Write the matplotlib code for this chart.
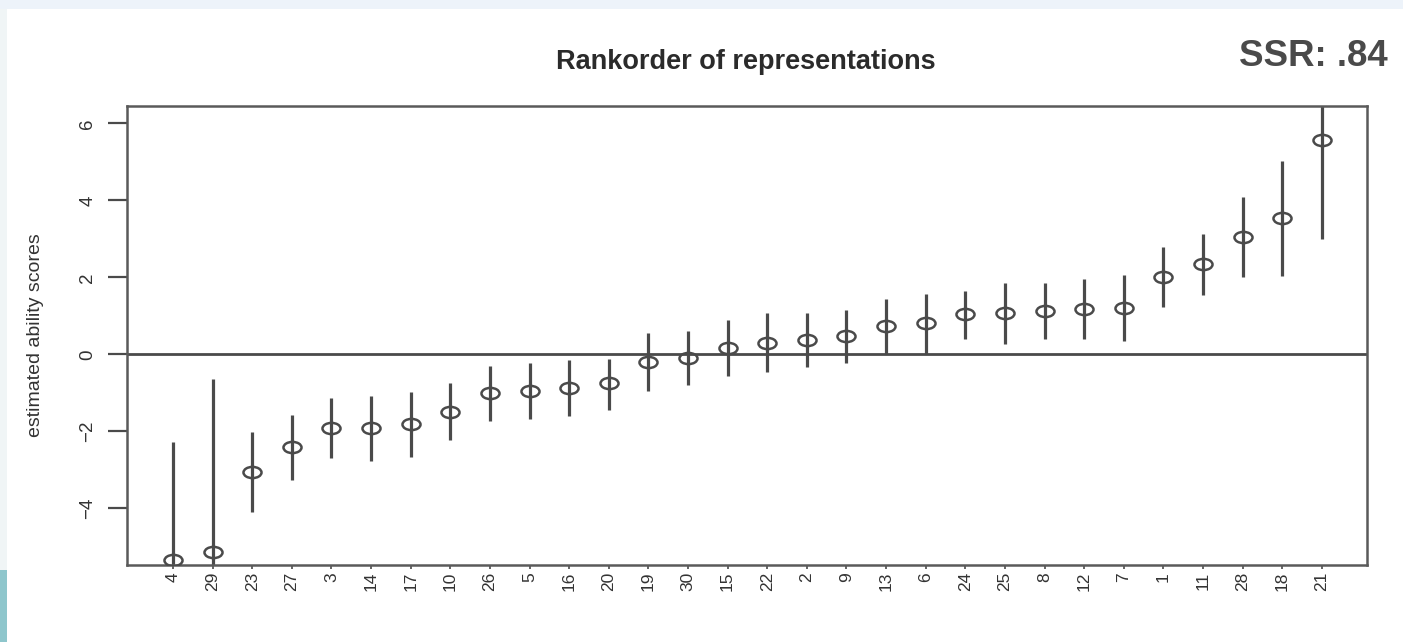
import matplotlib
matplotlib.use("Agg")
import matplotlib.pyplot as plt
from matplotlib.patches import Rectangle
from matplotlib.path import Path
from matplotlib.markers import MarkerStyle
from matplotlib.transforms import Affine2D

# Representations in rank order, with estimated ability scores and interval bounds
labels = ['4', '29', '23', '27', '3', '14', '17', '10', '26', '5', '16', '20', '19', '30', '15',
          '22', '2', '9', '13', '6', '24', '25', '8', '12', '7', '1', '11', '28', '18', '21']
estimates = [-5.33, -5.14, -3.06, -2.41, -1.90, -1.90, -1.81, -1.49, -1.00, -0.95, -0.87, -0.75,
             -0.21, -0.09, 0.16, 0.30, 0.37, 0.48, 0.74, 0.81, 1.04, 1.08, 1.13, 1.17, 1.20,
             2.02, 2.34, 3.05, 3.55, 5.57]
lower = [-8.40, -9.60, -4.10, -3.26, -2.70, -2.76, -2.67, -2.22, -1.73, -1.67, -1.60, -1.45,
         -0.95, -0.80, -0.56, -0.45, -0.32, -0.22, 0.00, 0.00, 0.41, 0.26, 0.39, 0.39, 0.34,
         1.22, 1.54, 2.02, 2.03, 2.99]
upper = [-2.27, -0.65, -2.01, -1.57, -1.14, -1.07, -0.99, -0.75, -0.30, -0.23, -0.15, -0.12,
         0.55, 0.61, 0.90, 1.08, 1.08, 1.16, 1.43, 1.56, 1.64, 1.86, 1.86, 1.95, 2.06,
         2.80, 3.12, 4.09, 5.03, 8.15]
y_ticks = [-4, -2, 0, 2, 4, 6]

plt.rcParams['font.family'] = ['Liberation Sans', 'DejaVu Sans']

INK = '#4a4a4a'

fig = plt.figure(figsize=(14.03, 6.42), dpi=100)
fig.patch.set_facecolor('white')

# slide background strips
fig.add_artist(Rectangle((0, 1 - 9 / 642), 1, 9 / 642, transform=fig.transFigure,
                         facecolor='#edf3fa', edgecolor='none', zorder=0))
fig.add_artist(Rectangle((0, 72 / 642), 7 / 1403, 1 - 81 / 642, transform=fig.transFigure,
                         facecolor='#f0f5f6', edgecolor='none', zorder=0))
fig.add_artist(Rectangle((0, 0), 7 / 1403, 72 / 642, transform=fig.transFigure,
                         facecolor='#8ec6cc', edgecolor='none', zorder=0))

ax = fig.add_axes([127 / 1403, 1 - 565 / 642, (1367 - 127) / 1403, (565 - 106) / 642])

x = list(range(1, len(labels) + 1))

# open ellipse marker
ell = Path.unit_circle().transformed(Affine2D().scale(1.0, 0.62))
marker = MarkerStyle(ell)

ax.vlines(x, lower, upper, color=INK, linewidth=2.3, zorder=2)
ax.axhline(0, color=INK, linewidth=2.0, zorder=1)
ax.plot(x, estimates, linestyle='none', marker=marker, markersize=13,
        markerfacecolor='none', markeredgecolor=INK, markeredgewidth=1.8, zorder=3)

ax.set_xlim(-0.16, 31.14)
ax.set_ylim(-5.47, 6.45)

ax.set_xticks(x)
ax.set_xticklabels(labels, rotation=90, fontsize=12.5, color='#333333')
ax.set_yticks(y_ticks)
ax.set_yticklabels([str(v).replace('-', '\u2212') for v in y_ticks], rotation=90,
                   va='center', fontsize=13.5, color='#333333')
ax.tick_params(axis='x', length=3, width=1.2, pad=2, color=INK)
ax.tick_params(axis='y', length=14, width=1.6, pad=8, color=INK)

for s in ax.spines.values():
    s.set_color('#5a5a5a')
    s.set_linewidth(1.8)

ax.set_ylabel('estimated ability scores', fontsize=14, color='#333333')
ax.yaxis.set_label_coords(-(127 - 44) / 1240, 0.5)

fig.text(746 / 1403, 1 - 62 / 642, 'Rankorder of representations', ha='center', va='center',
         fontsize=19.5, fontweight='bold', color='#2b2b2b')
fig.text(1388 / 1403, 1 - 57 / 642, 'SSR: .84', ha='right', va='center',
         fontsize=26.5, fontweight='bold', color='#4a4a4a')

fig.savefig('out.png', dpi=100, facecolor=fig.get_facecolor())
